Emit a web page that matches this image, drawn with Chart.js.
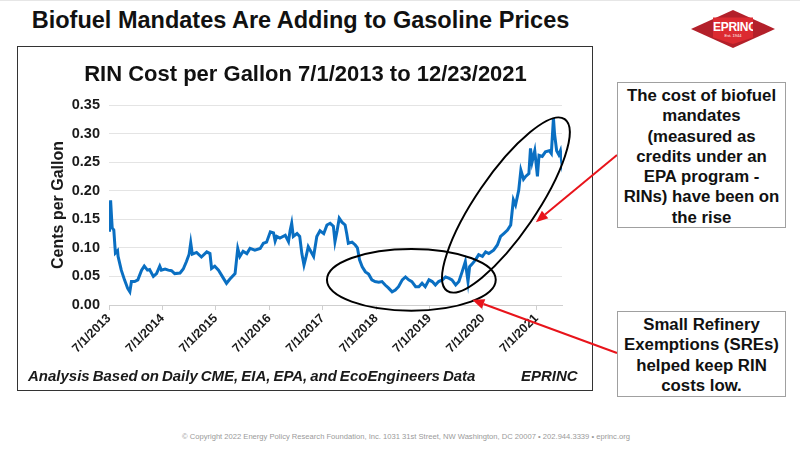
<!DOCTYPE html>
<html>
<head>
<meta charset="utf-8">
<script src="https://cdn.jsdelivr.net/npm/chart.js@4.4.1/dist/chart.umd.min.js"></script>
<style>
  body { margin: 0; width: 800px; height: 449px; background: #fff; position: relative; overflow: hidden;
         font-family: "Liberation Sans", Arial, sans-serif; }
  #topline { position: absolute; left: 0; top: 0; width: 800px; height: 1px; background: #e6e6e6; }
  #headline { position: absolute; left: 0; top: 7px; width: 601px; text-align: center;
              font-size: 23.5px; font-weight: bold; color: #111; }
  #frame { position: absolute; left: 17px; top: 46px; width: 576px; height: 345px;
           border: 1.5px solid #333; box-sizing: border-box; }
  #chartWrap { position: absolute; left: 0; top: 0; width: 800px; height: 449px; z-index: 2; }
  .note { position: absolute; top: 367px; font-size: 15px; font-weight: bold; font-style: italic;
          color: #1a1a1a; word-spacing: -1.2px; z-index: 3; }
  .callout { position: absolute; left: 617px; width: 169px; background: #fff; border: 1.5px solid #a0a0a0;
             box-sizing: border-box; text-align: center; font-weight: bold; font-size: 16.8px;
             line-height: 20.3px; color: #111; z-index: 3; }
  #footer { position: absolute; left: 6px; top: 432px; width: 800px; text-align: center;
            font-size: 7.6px; color: #9a9a9a; }
  #logo { position: absolute; left: 691px; top: 10px; width: 84px; height: 38px; }
  #logo .dia { position: absolute; inset: 0; background: #b3202a;
               clip-path: polygon(50% 0, 100% 50%, 50% 100%, 0 50%); }
  #logo .core { position: absolute; left: 22px; top: 4px; width: 40px; height: 30px; background: #dc2a31;
                clip-path: polygon(0 12%, 100% 12%, 100% 78%, 50% 100%, 0 78%); color: #fff; text-align: center; }
  #logo .big { display: block; font-family: "Liberation Sans Narrow", "Liberation Sans", sans-serif;
               font-size: 12px; font-weight: bold; margin-top: 7px; line-height: 12px; letter-spacing: -0.3px; }
  #logo .est { display: block; font-size: 4px; line-height: 6px; }
</style>
</head>
<body>
<div id="topline"></div>
<div id="headline">Biofuel Mandates Are Adding to Gasoline Prices</div>
<div id="logo"><div class="dia"></div><div class="core"><span class="big">EPRINC</span><span class="est">Est. 1944</span></div></div>
<div id="frame"></div>
<div id="chartWrap"><canvas id="rinChart" width="800" height="449"></canvas></div>
<div class="note" style="left:28px;">Analysis Based on Daily CME, EIA, EPA, and EcoEngineers Data</div>
<div class="note" style="left:521px;">EPRINC</div>
<div class="callout" style="top:82px;height:146px;padding-top:3px;">The cost of biofuel<br>mandates<br>(measured as<br>credits under an<br>EPA program -<br>RINs) have been on<br>the rise</div>
<div class="callout" style="top:311px;height:86px;padding-top:3px;">Small Refinery<br>Exemptions (SREs)<br>helped keep RIN<br>costs low.</div>
<div id="footer">© Copyright 2022 Energy Policy Research Foundation, Inc. 1031 31st Street, NW Washington, DC 20007 • 202.944.3339 • eprinc.org</div>

<script>
// tick labels on the x axis, one per year (x = years since 7/1/2013)
const tickLabels = ['7/1/2013', '7/1/2014', '7/1/2015', '7/1/2016', '7/1/2017',
                    '7/1/2018', '7/1/2019', '7/1/2020', '7/1/2021'];
const yTicks = [0, 0.05, 0.10, 0.15, 0.20, 0.25, 0.30, 0.35];

// years since 7/1/2013
const yearOffsets = [
  0.00, 0.01, 0.03, 0.05, 0.06, 0.09, 0.12, 0.16, 0.17, 0.23, 0.29, 0.35, 0.39, 0.42, 0.48, 0.54,
  0.61, 0.66, 0.72, 0.76, 0.83, 0.89, 0.95, 0.98, 1.05, 1.11, 1.17, 1.23, 1.33, 1.39, 1.45, 1.50,
  1.53, 1.56, 1.64, 1.73, 1.83, 1.89, 1.92, 1.98, 2.05, 2.14, 2.20, 2.26, 2.36, 2.41, 2.45, 2.51,
  2.58, 2.64, 2.73, 2.83, 2.89, 2.95, 3.02, 3.08, 3.11, 3.14, 3.20, 3.30, 3.36, 3.39, 3.42, 3.45,
  3.52, 3.57, 3.61, 3.65, 3.69, 3.73, 3.80, 3.83, 3.89, 3.95, 4.02, 4.08, 4.14, 4.20, 4.23, 4.27,
  4.31, 4.36, 4.42, 4.45, 4.48, 4.55, 4.61, 4.65, 4.69, 4.74, 4.80, 4.86, 4.92, 4.98, 5.05, 5.11,
  5.17, 5.23, 5.30, 5.36, 5.42, 5.49, 5.55, 5.61, 5.67, 5.74, 5.80, 5.86, 5.92, 5.99, 6.05, 6.11,
  6.17, 6.24, 6.30, 6.36, 6.42, 6.49, 6.55, 6.61, 6.67, 6.70, 6.72, 6.75, 6.80, 6.86, 6.92, 6.99,
  7.05, 7.11, 7.20, 7.27, 7.33, 7.39, 7.46, 7.52, 7.57, 7.61, 7.67, 7.71, 7.76, 7.80, 7.86, 7.89,
  7.92, 7.97, 8.02, 8.05, 8.11, 8.17, 8.24, 8.28, 8.32, 8.34, 8.38, 8.42, 8.45, 8.47, 8.48
];

// RIN cost, cents per gallon (as labelled)
const rinCost = [
  0.131, 0.140, 0.183, 0.150, 0.135, 0.131, 0.091, 0.095, 0.085, 0.061, 0.044, 0.029, 0.023, 0.041, 0.041, 0.044,
  0.061, 0.068, 0.061, 0.062, 0.050, 0.055, 0.068, 0.061, 0.063, 0.061, 0.060, 0.055, 0.056, 0.063, 0.076, 0.089,
  0.109, 0.089, 0.092, 0.084, 0.093, 0.090, 0.064, 0.068, 0.061, 0.047, 0.038, 0.045, 0.055, 0.099, 0.085, 0.094,
  0.090, 0.099, 0.096, 0.099, 0.108, 0.110, 0.128, 0.126, 0.112, 0.120, 0.117, 0.122, 0.111, 0.130, 0.143, 0.120,
  0.125, 0.120, 0.090, 0.070, 0.085, 0.102, 0.090, 0.085, 0.120, 0.130, 0.125, 0.140, 0.143, 0.138, 0.111, 0.130,
  0.152, 0.145, 0.140, 0.125, 0.108, 0.110, 0.105, 0.100, 0.079, 0.067, 0.058, 0.054, 0.044, 0.041, 0.040, 0.041,
  0.035, 0.030, 0.023, 0.026, 0.032, 0.044, 0.049, 0.044, 0.041, 0.032, 0.032, 0.038, 0.032, 0.044, 0.041, 0.035,
  0.041, 0.044, 0.049, 0.047, 0.044, 0.035, 0.041, 0.058, 0.076, 0.055, 0.041, 0.067, 0.072, 0.079, 0.088, 0.085,
  0.093, 0.090, 0.096, 0.105, 0.120, 0.125, 0.131, 0.140, 0.184, 0.175, 0.201, 0.236, 0.220, 0.225, 0.230, 0.274,
  0.250, 0.270, 0.225, 0.262, 0.260, 0.268, 0.270, 0.265, 0.327, 0.300, 0.270, 0.263, 0.270, 0.254, 0.262
];

// ellipses and arrows, anchored in data units (years, cents)
const ellipses = [
  { t: 5.66, v: 0.044, rx: 1.58, ry: 0.054, angle: 0 },
  { t: 7.43, v: 0.175, a: 104, b: 30, angle: -55.6 } // a, b in px along the tilted axes
];
const arrows = [
  { fromX: 617, fromY: 155, t: 7.99, v: 0.145 },
  { fromX: 617, fromY: 353, t: 6.80, v: 0.009 }
];

const overlay = {
  id: 'overlay',
  afterDraw(chart) {
    const ctx = chart.ctx, xs = chart.scales.x, ys = chart.scales.y;
    ctx.save();
    ctx.strokeStyle = '#000';
    ctx.lineWidth = 2;
    ellipses.forEach(e => {
      const cx = xs.getPixelForValue(e.t), cy = ys.getPixelForValue(e.v);
      let rx = e.a, ry = e.b;
      if (e.rx) {
        rx = xs.getPixelForValue(e.t + e.rx) - cx;
        ry = cy - ys.getPixelForValue(e.v + e.ry);
      }
      ctx.beginPath();
      ctx.ellipse(cx, cy, rx, ry, e.angle * Math.PI / 180, 0, Math.PI * 2);
      ctx.stroke();
    });
    ctx.strokeStyle = '#e8141b';
    ctx.fillStyle = '#e8141b';
    arrows.forEach(a => {
      const tx = xs.getPixelForValue(a.t), ty = ys.getPixelForValue(a.v);
      const ang = Math.atan2(ty - a.fromY, tx - a.fromX);
      const hl = 12, hw = 5;
      const bx = tx - hl * Math.cos(ang), by = ty - hl * Math.sin(ang);
      ctx.beginPath();
      ctx.moveTo(a.fromX, a.fromY);
      ctx.lineTo(bx, by);
      ctx.stroke();
      ctx.beginPath();
      ctx.moveTo(tx, ty);
      ctx.lineTo(bx + hw * Math.sin(ang), by - hw * Math.cos(ang));
      ctx.lineTo(bx - hw * Math.sin(ang), by + hw * Math.cos(ang));
      ctx.closePath();
      ctx.fill();
    });
    ctx.restore();
  }
};

new Chart(document.getElementById('rinChart'), {
  type: 'line',
  data: {
    datasets: [{
      data: yearOffsets.map((t, i) => ({ x: t, y: rinCost[i] })),
      borderColor: '#0a6fc2',
      borderWidth: 3,
      pointRadius: 0,
      tension: 0
    }]
  },
  options: {
    responsive: false,
    animation: false,
    layout: { padding: { left: 49, right: 238, top: 62, bottom: 94 } },
    plugins: {
      legend: { display: false },
      tooltip: { enabled: false },
      title: {
        display: true,
        text: 'RIN Cost per Gallon 7/1/2013 to 12/23/2021',
        color: '#111',
        font: { family: '"Liberation Sans", Arial', size: 22, weight: 'bold' },
        padding: { top: 0, bottom: 16.6 }
      }
    },
    scales: {
      x: {
        type: 'linear',
        min: 0,
        max: 8.48,
        afterBuildTicks: s => { s.ticks = tickLabels.map((_, i) => ({ value: i })); },
        afterFit: s => { s.height = 50; },
        ticks: {
          callback: (v, i) => tickLabels[i],
          autoSkip: false,
          minRotation: 45,
          maxRotation: 45,
          padding: 1,
          color: '#1a1a1a',
          font: { family: '"Liberation Sans", Arial', size: 12.5, weight: 'bold' }
        },
        grid: { drawOnChartArea: false, tickLength: 5, color: '#cfcfcf' },
        border: { color: '#cfcfcf' }
      },
      y: {
        min: 0,
        max: 0.35,
        afterBuildTicks: s => { s.ticks = yTicks.map(v => ({ value: v })); },
        afterFit: s => { s.width = 60; },
        ticks: {
          callback: v => v.toFixed(2),
          padding: 9,
          color: '#1a1a1a',
          font: { family: '"Liberation Sans", Arial', size: 14.5, weight: 'bold' }
        },
        grid: { color: '#e4e4e4', drawTicks: false },
        border: { display: false },
        title: {
          display: true,
          text: 'Cents per Gallon',
          color: '#1a1a1a',
          padding: 0,
          font: { family: '"Liberation Sans", Arial', size: 16, weight: 'bold' }
        }
      }
    }
  },
  plugins: [overlay]
});
</script>
</body>
</html>
